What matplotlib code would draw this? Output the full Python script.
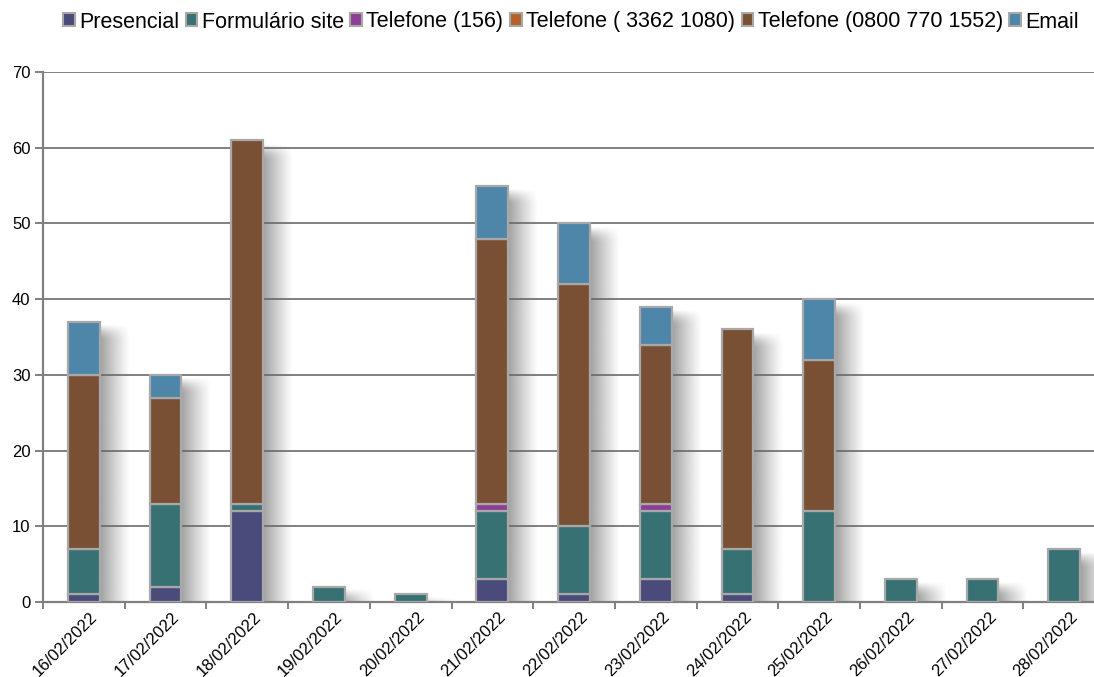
import numpy as np
import matplotlib
matplotlib.use("Agg")
import matplotlib.pyplot as plt
from matplotlib.patches import Patch
from matplotlib.transforms import ScaledTranslation

plt.rcParams['font.family'] = ['Liberation Sans', 'DejaVu Sans']

dates = ["16/02/2022", "17/02/2022", "18/02/2022", "19/02/2022", "20/02/2022",
         "21/02/2022", "22/02/2022", "23/02/2022", "24/02/2022", "25/02/2022",
         "26/02/2022", "27/02/2022", "28/02/2022"]

presencial = [1, 2, 12, 0, 0, 3, 1, 3, 1, 0, 0, 0, 0]
formulario = [6, 11, 1, 2, 1, 9, 9, 9, 6, 12, 3, 3, 7]
tel_156 = [0, 0, 0, 0, 0, 1, 0, 1, 0, 0, 0, 0, 0]
tel_3362 = [0, 0, 0, 0, 0, 0, 0, 0, 0, 0, 0, 0, 0]
tel_0800 = [23, 14, 48, 0, 0, 35, 32, 21, 29, 20, 0, 0, 0]
email = [7, 3, 0, 0, 0, 7, 8, 5, 0, 8, 0, 0, 0]

series_names = ["Presencial", "Formulário site", "Telefone (156)",
                "Telefone ( 3362 1080)", "Telefone (0800 770 1552)", "Email"]
series_values = [presencial, formulario, tel_156, tel_3362, tel_0800, email]
colors = ["#4a4a7b", "#387173", "#8e3f95", "#b5622a", "#7a5034", "#4d86a8"]
edge = "#a8a8a8"

fig = plt.figure(figsize=(10.94, 6.77), dpi=100)
ax = fig.add_axes([43 / 1094, 1 - 602 / 677, 13 * 81.7 / 1094, 530 / 677])

x = np.arange(len(dates))
width = 0.39
totals = np.sum(np.array(series_values), axis=0)

# soft drop shadow to the right of each stack
ncol = 80
xs = np.linspace(0, 1, ncol)
alpha_row = 0.62 * (1 - xs) ** 1.1
for xi, tot in zip(x, totals):
    if tot <= 0:
        continue
    top = tot - 0.4
    nrow = 200
    ys = np.linspace(top, 0, nrow)          # data value of each row, top to bottom
    vfade = np.clip((top - ys) / 2.2, 0, 1)
    vfade = np.sin(vfade * np.pi / 2)[:, None]
    img = np.zeros((nrow, ncol, 4))
    img[..., :3] = 0.4
    img[..., 3] = alpha_row[None, :] * vfade
    ax.imshow(img, extent=[xi + width / 2, xi + width / 2 + 0.36, 0, top],
              aspect='auto', origin='upper', interpolation='bilinear', zorder=1.5)

bottom = np.zeros(len(dates))
for name, vals, col in zip(series_names, series_values, colors):
    vals = np.array(vals, dtype=float)
    bars = ax.bar(x, vals, width, bottom=bottom, color=col, edgecolor=edge,
                  linewidth=1.6, zorder=3)
    for b, v in zip(bars, vals):
        if v == 0:
            b.set_visible(False)
    bottom += vals

ax.set_xlim(-0.5, len(dates) - 0.5)
ax.set_ylim(0, 70)
ax.set_yticks(range(0, 71, 10))
ax.yaxis.grid(True, color="#808080", linewidth=1.4, zorder=0)
ax.set_axisbelow(True)

ax.set_xticks(np.arange(-0.5, len(dates) - 0.4, 1))
ax.set_xticklabels([])
ax.set_xticks(x, minor=True)
ax.set_xticklabels(dates, minor=True, rotation=45, ha='right',
                   rotation_mode='anchor', fontsize=12)
ax.tick_params(axis='x', which='minor', length=0, pad=5)
ax.tick_params(axis='x', which='major', length=5, width=1.4, color="#808080")
ax.tick_params(axis='y', length=6, width=1.4, color="#808080", labelsize=12, pad=3)
shift = ScaledTranslation(6 / 100, 0, fig.dpi_scale_trans)
for lbl in ax.get_xticklabels(minor=True):
    lbl.set_transform(lbl.get_transform() + shift)

for s in ["top", "right"]:
    ax.spines[s].set_visible(False)
for s in ["left", "bottom"]:
    ax.spines[s].set_color("#808080")
    ax.spines[s].set_linewidth(1.6)

handles = [Patch(facecolor=c, edgecolor=edge, linewidth=1.5) for c in colors]
fig.legend(handles, series_names, loc='center', bbox_to_anchor=(571 / 1094, 1 - 22 / 677),
           ncol=6, frameon=False, fontsize=15.5, handlelength=0.55, handleheight=0.55,
           handletextpad=0.2, columnspacing=0.3, borderaxespad=0)

fig.savefig("out.png", dpi=100)
